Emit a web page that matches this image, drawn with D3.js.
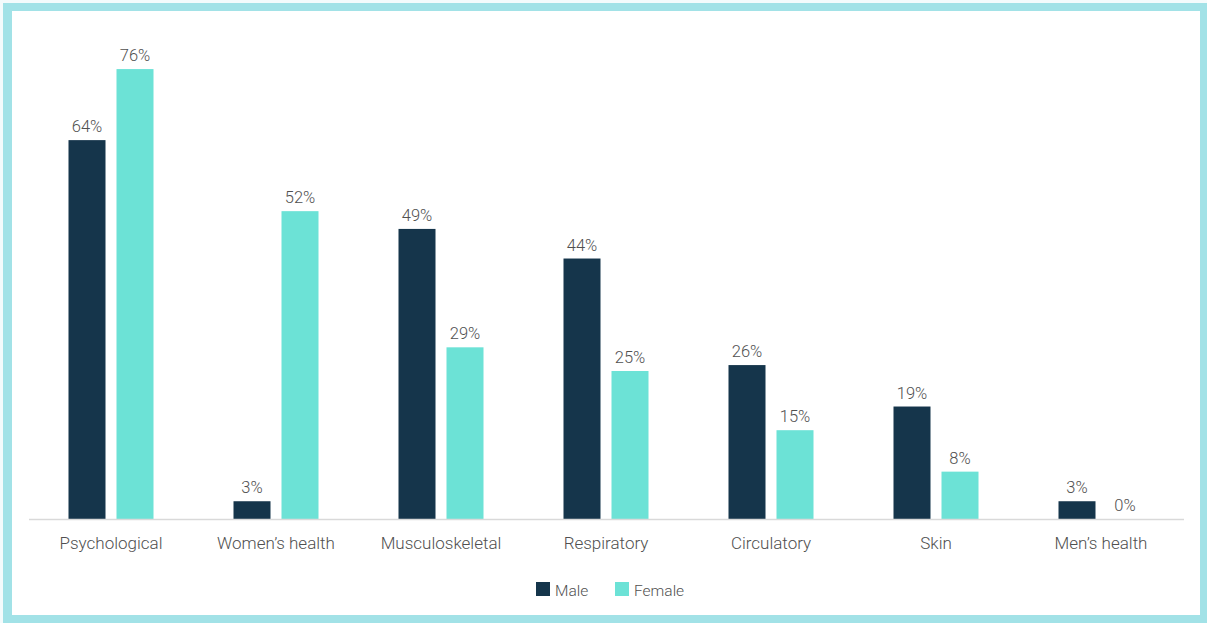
<!DOCTYPE html>
<html>
<head>
<meta charset="utf-8">
<script src="https://cdn.jsdelivr.net/npm/d3@7"></script>
<style>
  html, body { margin: 0; padding: 0; background: #fff; }
  svg { display: block; font-family: Roboto, "Open Sans", sans-serif; font-weight: 300; }
</style>
</head>
<body>
<svg id="chart" width="1207" height="623"></svg>
<script>
// Conditions reported, by sex (percent)
const categories = ["Psychological", "Women\u2019s health", "Musculoskeletal", "Respiratory", "Circulatory", "Skin", "Men\u2019s health"];
const maleValues = [64, 3, 49, 44, 26, 19, 3];
const femaleValues = [76, 52, 29, 25, 15, 8, 0];
const seriesNames = ["Male", "Female"];
const seriesColors = ["#15354b", "#6ce2d6"];

const svg = d3.select("#chart");
const W = 1207, H = 623;
const textColor = "#505050";

// frame
svg.append("rect").attr("x", 0).attr("y", 0).attr("width", W).attr("height", H).attr("fill", "#f4fbfc");
svg.append("rect").attr("x", 3).attr("y", 3).attr("width", W - 3).attr("height", H - 3).attr("fill", "#a2e2e7");
svg.append("rect").attr("x", 12).attr("y", 11).attr("width", 1188).attr("height", 604).attr("fill", "#ffffff");

const baseY = 519;
const x0 = d3.scaleBand().domain(categories).range([28.5, 1183.5]).paddingInner(0).paddingOuter(0);
const y = d3.scaleLinear().domain([0, 100]).range([baseY, baseY - 592]);

const barW = 37, gap = 11;
const rows = categories.map((c, i) => ({ cat: c, vals: [maleValues[i], femaleValues[i]] }));

const g = svg.append("g");
const groups = g.selectAll("g.grp").data(rows).join("g")
  .attr("transform", d => `translate(${x0(d.cat) + x0.bandwidth() / 2},0)`);

const offsets = [-(barW + gap / 2), gap / 2];

groups.selectAll("rect").data(d => d.vals.map((v, k) => ({ v, k }))).join("rect")
  .attr("x", d => offsets[d.k])
  .attr("y", d => y(d.v))
  .attr("width", barW)
  .attr("height", d => baseY - y(d.v))
  .attr("fill", d => seriesColors[d.k]);

groups.selectAll("text.val").data(d => d.vals.map((v, k) => ({ v, k }))).join("text")
  .attr("class", "val")
  .attr("x", d => offsets[d.k] + barW / 2)
  .attr("y", d => y(d.v) - 8)
  .attr("text-anchor", "middle")
  .attr("font-size", 16.5)
  .attr("fill", textColor)
  .text(d => d.v + "%");

// baseline axis
const xAxis = d3.axisBottom(x0).tickSize(0).tickPadding(18);
const ax = svg.append("g").attr("transform", `translate(0,${baseY})`).call(xAxis);
ax.select(".domain").attr("stroke", "#d9d9d9").attr("stroke-width", 1.5);
ax.selectAll("text").attr("font-size", 17).attr("fill", textColor)
  .attr("font-family", "Roboto, sans-serif").attr("font-weight", 300);

// legend
const legendX = [536, 615];
const lg = svg.append("g");
seriesNames.forEach((name, k) => {
  lg.append("rect").attr("x", legendX[k]).attr("y", 582).attr("width", 14).attr("height", 14).attr("fill", seriesColors[k]);
  lg.append("text").attr("x", legendX[k] + 19).attr("y", 595.5).attr("font-size", 15.5).attr("fill", textColor).text(name);
});
</script>
</body>
</html>
